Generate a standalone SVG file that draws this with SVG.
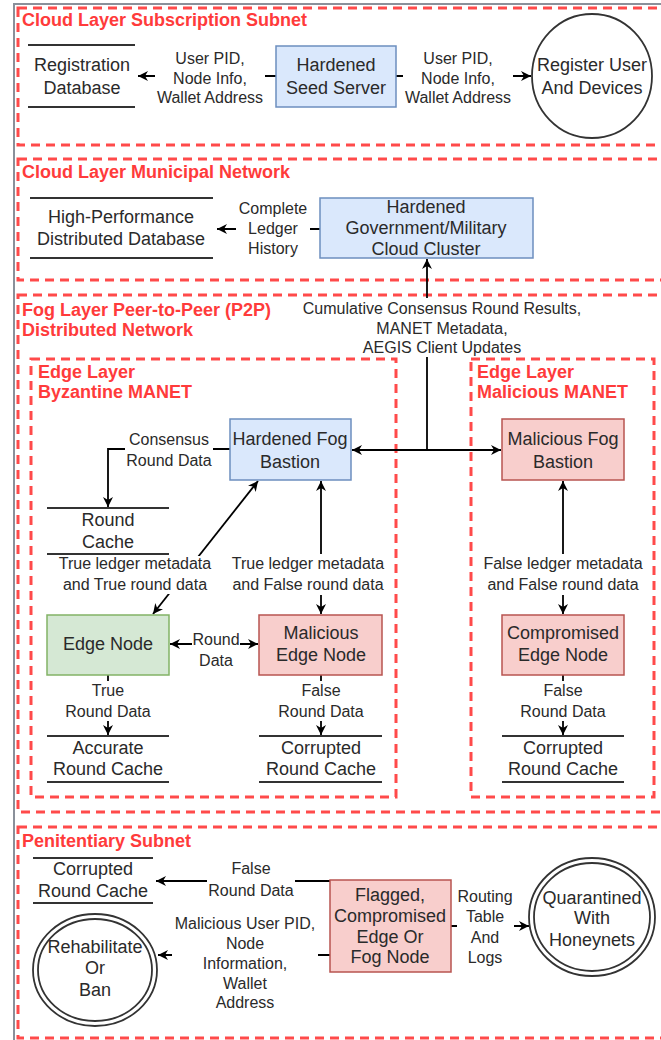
<svg xmlns="http://www.w3.org/2000/svg" width="661" height="1040" viewBox="0 0 661 1040">
<defs>
<marker id="arr" markerUnits="userSpaceOnUse" markerWidth="11" markerHeight="11" refX="10" refY="5" orient="auto-start-reverse" viewBox="0 0 11 11">
<path d="M0,0 L10,5 L0,10 L3,5 z" fill="#000"/>
</marker>
<style>
.zone{fill:none;stroke:#ff4a4a;stroke-width:3;stroke-dasharray:9 6}
.title{font-family:"Liberation Sans",Arial,sans-serif;font-size:18px;font-weight:bold;fill:#ff3b3b}
.t{font-family:"Liberation Sans",Arial,sans-serif;font-size:18px;fill:#2a2a2a;text-anchor:middle;dominant-baseline:central}
.lb{font-family:"Liberation Sans",Arial,sans-serif;font-size:16px;fill:#2a2a2a;text-anchor:middle;dominant-baseline:central}
.db{stroke:#333;stroke-width:2}
.blue{fill:#dae8fc;stroke:#6c8ebf;stroke-width:1.5}
.red{fill:#f8cecc;stroke:#b85450;stroke-width:1.5}
.green{fill:#d5e8d4;stroke:#82b366;stroke-width:1.5}
.circ{fill:#fff;stroke:#333;stroke-width:1.8}
.c{fill:none;stroke:#000;stroke-width:1.8}
.bg{fill:#fff}
</style>
</defs>
<rect width="661" height="1040" fill="#fff"/>
<path d="M14,1040 V4 H661" fill="none" stroke="#8a909a" stroke-width="2"/>

<g id="zones">
<rect class="zone" x="18" y="8" width="700" height="137"/>
<text class="title" x="22" y="26">Cloud Layer Subscription Subnet</text>
<rect class="zone" x="18" y="159" width="700" height="121"/>
<text class="title" x="22" y="178">Cloud Layer Municipal Network</text>
<rect class="zone" x="18" y="295" width="700" height="517"/>
<text class="title" x="22" y="316">Fog Layer Peer-to-Peer (P2P)</text>
<text class="title" x="22" y="336">Distributed Network</text>
<rect class="zone" x="31" y="359" width="365" height="438"/>
<text class="title" x="38" y="378">Edge Layer</text>
<text class="title" x="38" y="398">Byzantine MANET</text>
<rect class="zone" x="471" y="359" width="183" height="438"/>
<text class="title" x="477" y="378">Edge Layer</text>
<text class="title" x="477" y="398">Malicious MANET</text>
<rect class="zone" x="18" y="827" width="700" height="211"/>
<text class="title" x="22" y="847">Penitentiary Subnet</text>
</g>

<g id="connectors">
<line class="c" x1="276" y1="76" x2="138" y2="76" marker-end="url(#arr)"/>
<rect class="bg" x="155" y="48" width="110" height="59"/>
<text class="lb" x="210"><tspan x="210" y="58">User PID,</tspan><tspan x="210" y="78">Node Info,</tspan><tspan x="210" y="97">Wallet Address</tspan></text>

<line class="c" x1="396" y1="76" x2="531" y2="76" marker-end="url(#arr)"/>
<rect class="bg" x="403" y="48" width="110" height="59"/>
<text class="lb" x="458"><tspan x="458" y="58">User PID,</tspan><tspan x="458" y="78">Node Info,</tspan><tspan x="458" y="97">Wallet Address</tspan></text>

<line class="c" x1="320" y1="229" x2="217" y2="229" marker-end="url(#arr)"/>
<rect class="bg" x="236" y="198" width="74" height="60"/>
<text class="lb"><tspan x="273" y="208">Complete</tspan><tspan x="273" y="228">Ledger</tspan><tspan x="273" y="248">History</tspan></text>

<line class="c" x1="427" y1="450" x2="427" y2="259" marker-end="url(#arr)"/>
<line class="c" x1="352" y1="450" x2="501" y2="450" marker-start="url(#arr)" marker-end="url(#arr)"/>
<rect class="bg" x="295" y="298" width="294" height="59"/>
<text class="lb"><tspan x="442" y="308">Cumulative Consensus Round Results,</tspan><tspan x="442" y="328">MANET Metadata,</tspan><tspan x="442" y="347">AEGIS Client Updates</tspan></text>

<polyline class="c" points="230,449 108,449 108,507" marker-end="url(#arr)"/>
<rect class="bg" x="125" y="429" width="88" height="42"/>
<text class="lb"><tspan x="169" y="439">Consensus</tspan><tspan x="169" y="460">Round Data</tspan></text>

<line class="c" x1="153" y1="614" x2="258" y2="481" marker-start="url(#arr)" marker-end="url(#arr)"/>
<rect class="bg" x="55" y="556" width="160" height="38"/>
<text class="lb"><tspan x="135" y="563">True ledger metadata</tspan><tspan x="135" y="584">and True round data</tspan></text>

<line class="c" x1="321" y1="481" x2="321" y2="614" marker-start="url(#arr)" marker-end="url(#arr)"/>
<rect class="bg" x="230" y="554" width="156" height="41"/>
<text class="lb"><tspan x="308" y="563">True ledger metadata</tspan><tspan x="308" y="584">and False round data</tspan></text>

<line class="c" x1="563" y1="481" x2="563" y2="614" marker-start="url(#arr)" marker-end="url(#arr)"/>
<rect class="bg" x="482" y="554" width="162" height="41"/>
<text class="lb"><tspan x="563" y="563">False ledger metadata</tspan><tspan x="563" y="584">and False round data</tspan></text>

<line class="c" x1="170" y1="644" x2="258" y2="644" marker-start="url(#arr)" marker-end="url(#arr)"/>
<rect class="bg" x="192" y="630" width="48" height="40"/>
<text class="lb"><tspan x="216" y="639">Round</tspan><tspan x="216" y="660">Data</tspan></text>

<line class="c" x1="108" y1="675" x2="108" y2="735" marker-end="url(#arr)"/>
<rect class="bg" x="65" y="681" width="86" height="40"/>
<text class="lb"><tspan x="108" y="690">True</tspan><tspan x="108" y="711">Round Data</tspan></text>

<line class="c" x1="321" y1="675" x2="321" y2="735" marker-end="url(#arr)"/>
<rect class="bg" x="278" y="681" width="86" height="40"/>
<text class="lb"><tspan x="321" y="690">False</tspan><tspan x="321" y="711">Round Data</tspan></text>

<line class="c" x1="563" y1="675" x2="563" y2="735" marker-end="url(#arr)"/>
<rect class="bg" x="520" y="681" width="86" height="40"/>
<text class="lb"><tspan x="563" y="690">False</tspan><tspan x="563" y="711">Round Data</tspan></text>

<line class="c" x1="330" y1="881" x2="156" y2="881" marker-end="url(#arr)"/>
<rect class="bg" x="207" y="858" width="88" height="42"/>
<text class="lb"><tspan x="251" y="868">False</tspan><tspan x="251" y="890">Round Data</tspan></text>

<line class="c" x1="330" y1="955" x2="158" y2="955" marker-end="url(#arr)"/>
<rect class="bg" x="172" y="913" width="146" height="100"/>
<text class="lb"><tspan x="245" y="923">Malicious User PID,</tspan><tspan x="245" y="943">Node</tspan><tspan x="245" y="963">Information,</tspan><tspan x="245" y="983">Wallet</tspan><tspan x="245" y="1002">Address</tspan></text>

<line class="c" x1="451" y1="926" x2="529" y2="926" marker-end="url(#arr)"/>
<rect class="bg" x="457" y="886" width="57" height="81"/>
<text class="lb"><tspan x="485" y="896">Routing</tspan><tspan x="485" y="916">Table</tspan><tspan x="485" y="937">And</tspan><tspan x="485" y="957">Logs</tspan></text>
</g>

<g id="registration-db">
<line class="db" x1="28" y1="45" x2="135" y2="45"/><line class="db" x1="28" y1="107" x2="135" y2="107"/>
<text class="t"><tspan x="82" y="65">Registration</tspan><tspan x="82" y="88">Database</tspan></text>
</g>
<g id="seed-server">
<rect class="blue" x="276" y="46" width="120" height="61"/>
<text class="t"><tspan x="336" y="65">Hardened</tspan><tspan x="336" y="88">Seed Server</tspan></text>
</g>
<g id="register-user">
<ellipse class="circ" cx="592" cy="76" rx="60" ry="62"/>
<text class="t"><tspan x="592" y="65">Register User</tspan><tspan x="592" y="88">And Devices</tspan></text>
</g>

<g id="hp-db">
<line class="db" x1="30" y1="198" x2="213" y2="198"/><line class="db" x1="30" y1="258" x2="213" y2="258"/>
<text class="t"><tspan x="121" y="217">High-Performance</tspan><tspan x="121" y="239">Distributed Database</tspan></text>
</g>
<g id="cloud-cluster">
<rect class="blue" x="320" y="198" width="213" height="60"/>
<text class="t"><tspan x="426" y="207">Hardened</tspan><tspan x="426" y="228">Government/Military</tspan><tspan x="426" y="249">Cloud Cluster</tspan></text>
</g>

<g id="hardened-fog">
<rect class="blue" x="230" y="419" width="121" height="61"/>
<text class="t"><tspan x="290" y="439">Hardened Fog</tspan><tspan x="290" y="462">Bastion</tspan></text>
</g>
<g id="malicious-fog">
<rect class="red" x="502" y="419" width="122" height="61"/>
<text class="t"><tspan x="563" y="439">Malicious Fog</tspan><tspan x="563" y="462">Bastion</tspan></text>
</g>
<g id="round-cache">
<line class="db" x1="47" y1="508" x2="169" y2="508"/><line class="db" x1="47" y1="554" x2="169" y2="554"/>
<text class="t"><tspan x="108" y="520">Round</tspan><tspan x="108" y="542">Cache</tspan></text>
</g>
<g id="edge-node">
<rect class="green" x="47" y="615" width="122" height="60"/>
<text class="t" x="108" y="644">Edge Node</text>
</g>
<g id="malicious-edge">
<rect class="red" x="259" y="615" width="123" height="60"/>
<text class="t"><tspan x="321" y="633">Malicious</tspan><tspan x="321" y="655">Edge Node</tspan></text>
</g>
<g id="compromised-edge">
<rect class="red" x="502" y="615" width="122" height="60"/>
<text class="t"><tspan x="563" y="633">Compromised</tspan><tspan x="563" y="655">Edge Node</tspan></text>
</g>
<g id="accurate-cache">
<line class="db" x1="47" y1="736" x2="169" y2="736"/><line class="db" x1="47" y1="782" x2="169" y2="782"/>
<text class="t"><tspan x="108" y="748">Accurate</tspan><tspan x="108" y="769">Round Cache</tspan></text>
</g>
<g id="corrupted-cache-1">
<line class="db" x1="259" y1="736" x2="382" y2="736"/><line class="db" x1="259" y1="782" x2="382" y2="782"/>
<text class="t"><tspan x="321" y="748">Corrupted</tspan><tspan x="321" y="769">Round Cache</tspan></text>
</g>
<g id="corrupted-cache-2">
<line class="db" x1="502" y1="736" x2="624" y2="736"/><line class="db" x1="502" y1="782" x2="624" y2="782"/>
<text class="t"><tspan x="563" y="748">Corrupted</tspan><tspan x="563" y="769">Round Cache</tspan></text>
</g>

<g id="pen-corrupted-cache">
<line class="db" x1="33" y1="858" x2="153" y2="858"/><line class="db" x1="33" y1="903" x2="153" y2="903"/>
<text class="t"><tspan x="93" y="869">Corrupted</tspan><tspan x="93" y="891">Round Cache</tspan></text>
</g>
<g id="flagged-node">
<rect class="red" x="330" y="880" width="121" height="92"/>
<text class="t"><tspan x="390" y="895">Flagged,</tspan><tspan x="390" y="916">Compromised</tspan><tspan x="390" y="937">Edge Or</tspan><tspan x="390" y="957">Fog Node</tspan></text>
</g>
<g id="rehabilitate">
<ellipse class="circ" cx="95" cy="970" rx="62" ry="56"/>
<ellipse class="circ" cx="95" cy="970" rx="57" ry="51"/>
<text class="t"><tspan x="95" y="947">Rehabilitate</tspan><tspan x="95" y="968">Or</tspan><tspan x="95" y="990">Ban</tspan></text>
</g>
<g id="quarantined">
<ellipse class="circ" cx="592" cy="917" rx="63" ry="59"/>
<ellipse class="circ" cx="592" cy="917" rx="58" ry="54"/>
<text class="t"><tspan x="592" y="898">Quarantined</tspan><tspan x="592" y="918">With</tspan><tspan x="592" y="940">Honeynets</tspan></text>
</g>
</svg>
